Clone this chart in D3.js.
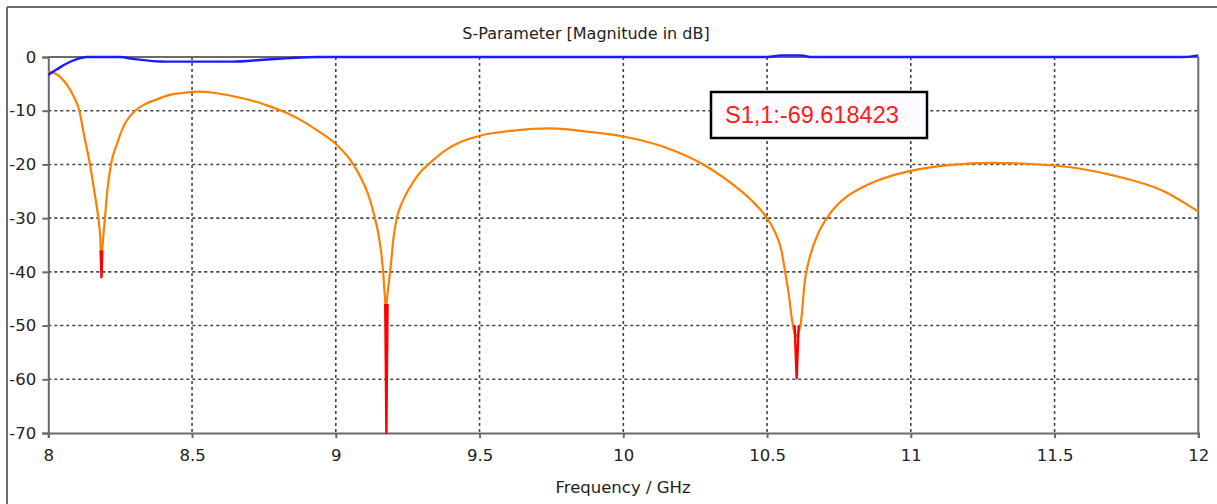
<!DOCTYPE html>
<html>
<head>
<meta charset="utf-8">
<script src="https://cdn.jsdelivr.net/npm/d3@7"></script>
<style>
  html, body { margin: 0; padding: 0; background: #ffffff; }
  svg { display: block; }
</style>
</head>
<body>
<svg id="chart" width="1217" height="504"></svg>
<script>
// ---- data ----
const titleText = "S-Parameter [Magnitude in dB]";
const xLabel = "Frequency / GHz";
const xTicks = [8, 8.5, 9, 9.5, 10, 10.5, 11, 11.5, 12];
const yTicks = [0, -10, -20, -30, -40, -50, -60, -70];
const markerText = "S1,1:-69.618423";

// S1,1 (orange)
const s11Freq = [
  8.000, 8.020, 8.041, 8.065, 8.087, 8.108, 8.126, 8.145, 8.160, 8.174, 8.180, 8.184,
  8.189, 8.192, 8.197, 8.205, 8.218, 8.240, 8.261, 8.302, 8.340, 8.377, 8.420, 8.458, 8.520,
  8.580, 8.643, 8.700, 8.760, 8.824, 8.880, 8.934, 9.000, 9.061, 9.090, 9.107, 9.120, 9.136,
  9.150, 9.163, 9.170, 9.174, 9.180, 9.191, 9.200, 9.212, 9.225, 9.240, 9.270, 9.300, 9.322,
  9.386, 9.440, 9.498, 9.618, 9.746, 9.873, 10.000, 10.139, 10.278, 10.406, 10.450, 10.500,
  10.525, 10.550, 10.563, 10.575, 10.587, 10.600, 10.616, 10.632, 10.650, 10.675, 10.708,
  10.740, 10.777, 10.830, 10.880, 10.940, 11.000, 11.140, 11.280, 11.500, 11.700, 11.880, 12.000];
const s11Val = [
  -2.7, -3.0, -3.7, -5.2, -7.2, -10, -15, -20, -25, -30, -33, -37,
  -35, -33, -30, -25, -20, -16, -13, -10, -8.7, -7.9, -7.1, -6.75, -6.45,
  -6.7, -7.3, -8.0, -9.0, -10.3, -11.8, -13.6, -16.2, -20, -22.8, -24.8, -26.8, -30,
  -33.5, -39, -44, -47, -44, -39, -34, -30, -27.8, -26.0, -23.2, -21.1, -20,
  -17.2, -15.7, -14.7, -13.7, -13.3, -13.9, -14.8, -16.7, -20, -24.8, -26.9, -30,
  -32.3, -36, -40, -44, -49, -52, -50, -41.5, -37, -33.2, -30,
  -27.8, -26, -24.3, -23.1, -22.0, -21.2, -20.1, -19.7, -20.2, -22.0, -25.0, -28.8];

// S1,1 fine-resolved minima (red)
const redFreq = [8.182, 8.185, 8.188, null, 9.172, 9.176, 9.180, null, 10.596, 10.603, 10.610];
const redVal  = [-36, -41, -36, null, -46, -70, -46, null, -50, -59.8, -50];

// S2,1 (blue)
const s21Freq = [8.000, 8.030, 8.064, 8.100, 8.134, 8.249, 8.300, 8.410, 8.643, 8.750, 8.840, 8.934,
  10.500, 10.550, 10.620, 10.650, 11.950, 12.000];
const s21Val = [-3.35, -2.3, -1.2, -0.4, 0, 0, -0.4, -0.87, -0.87, -0.5, -0.2, 0,
  0, 0.3, 0.3, 0, 0, 0.3];

// ---- drawing ----
const svg = d3.select("#chart");
const x = d3.scaleLinear().domain([8, 12]).range([48.3, 1198.3]);
const y = d3.scaleLinear().domain([-70, 0]).range([433, 57]);
const font = "'DejaVu Sans', Verdana, sans-serif";

// outer frame (partial)
svg.append("line").attr("x1", 7).attr("y1", 7).attr("x2", 1217).attr("y2", 7)
  .attr("stroke", "#6e6e6e").attr("stroke-width", 2);
svg.append("line").attr("x1", 7).attr("y1", 7).attr("x2", 7).attr("y2", 504)
  .attr("stroke", "#6e6e6e").attr("stroke-width", 2);

// title
svg.append("text").attr("x", 586).attr("y", 39).attr("text-anchor", "middle")
  .attr("font-family", font).attr("font-size", 16).attr("fill", "#222").text(titleText);

// grid
const grid = svg.append("g");
grid.selectAll("line.gx").data(xTicks.filter(d => d > 8 && d < 12)).enter().append("line")
  .attr("x1", d => x(d)).attr("x2", d => x(d)).attr("y1", y(0)).attr("y2", y(-70))
  .attr("stroke", "#444").attr("stroke-width", 1.6).attr("stroke-dasharray", "3,3");
grid.selectAll("line.gy").data(yTicks.filter(d => d < 0 && d > -70)).enter().append("line")
  .attr("x1", x(8)).attr("x2", x(12)).attr("y1", d => y(d)).attr("y2", d => y(d))
  .attr("stroke", "#444").attr("stroke-width", 1.6).attr("stroke-dasharray", "3,3");

// axes
const xAxis = d3.axisBottom(x).tickValues(xTicks).tickSize(5).tickPadding(11)
  .tickFormat(d => String(d));
const gx = svg.append("g").attr("transform", `translate(0,${y(-70)})`).call(xAxis);
const yAxis = d3.axisLeft(y).tickValues(yTicks).tickSize(6).tickPadding(6)
  .tickFormat(d => String(d));
const gy = svg.append("g").attr("transform", `translate(${x(8)},0)`).call(yAxis);
[gx, gy].forEach(g => {
  g.select(".domain").attr("stroke", "#6a6a6a").attr("stroke-width", 2);
  g.selectAll(".tick line").attr("stroke", "#6a6a6a").attr("stroke-width", 2);
  g.selectAll(".tick text").attr("font-family", font).attr("font-size", 16.5).attr("fill", "#222");
});
// frame right/top
svg.append("line").attr("x1", x(12)).attr("x2", x(12)).attr("y1", y(0)).attr("y2", y(-70))
  .attr("stroke", "#6a6a6a").attr("stroke-width", 2);
svg.append("line").attr("x1", x(8)).attr("x2", x(12)).attr("y1", y(0)).attr("y2", y(0))
  .attr("stroke", "#6a6a6a").attr("stroke-width", 2);

// x label
svg.append("text").attr("x", 623).attr("y", 493).attr("text-anchor", "middle")
  .attr("font-family", font).attr("font-size", 16.5).attr("fill", "#222").text(xLabel);

// curves
const mk = (fs, vs) => fs.map((f, i) => ({ f, v: vs[i] }));
const smooth = d3.line().defined(d => d.f !== null && d.v !== null)
  .x(d => x(d.f)).y(d => y(d.v)).curve(d3.curveMonotoneX);
const straight = d3.line().defined(d => d.f !== null && d.v !== null)
  .x(d => x(d.f)).y(d => y(d.v));

svg.append("path").datum(mk(s11Freq, s11Val)).attr("d", smooth)
  .attr("fill", "none").attr("stroke", "#ff8000").attr("stroke-width", 2.2)
  .attr("stroke-linejoin", "round");
svg.append("path").datum(mk(redFreq, redVal)).attr("d", straight)
  .attr("fill", "none").attr("stroke", "#ff0000").attr("stroke-width", 2.4)
  .attr("stroke-linejoin", "round");
svg.append("path").datum(mk(s21Freq, s21Val)).attr("d", smooth)
  .attr("fill", "none").attr("stroke", "#1a1aff").attr("stroke-width", 2.4)
  .attr("stroke-linejoin", "round");

// marker label box
const bx = svg.append("g");
bx.append("rect").attr("x", 711).attr("y", 92).attr("width", 216).attr("height", 46)
  .attr("fill", "#fdfbff").attr("stroke", "#000").attr("stroke-width", 2.5);
bx.append("text").attr("x", 725).attr("y", 123)
  .attr("font-family", "'Liberation Sans', Arial, sans-serif").attr("font-size", 23.5)
  .attr("fill", "#ff1a1a").text(markerText);
</script>
</body>
</html>
